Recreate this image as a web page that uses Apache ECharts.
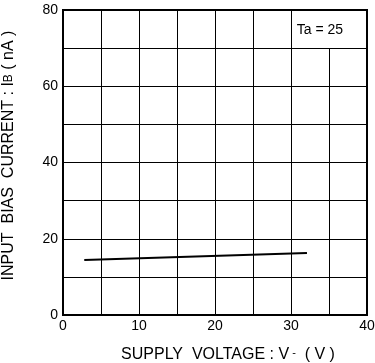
<!DOCTYPE html>
<html lang="en">
<head>
<meta charset="UTF-8">
<title>Input bias current vs supply voltage</title>
<style>
    * { margin: 0; padding: 0; }
    #chart { width: 375px; height: 363px; background: #fff; }
</style>
<script src="https://cdn.jsdelivr.net/npm/echarts@6/dist/echarts.min.js"></script>
</head>
<body>
<div id="chart"></div>
<script>
// 曲线数据 (V-, IB)
var voltage = [2.8, 32.1];
var biasCurrent = [14.4, 16.25];
// 网格线位置
var xGrid = [5, 10, 15, 20, 25, 30, 35];
var xGridTop = [80, 80, 80, 80, 80, 80, 70]; // 35V 的线在 Ta 框下方停止
var yGrid = [10, 20, 30, 40, 50, 60, 70];
var xLabels = [0, 10, 20, 30, 40];
var yLabels = [0, 20, 40, 60, 80];

var chart = echarts.init(document.getElementById('chart'));

var gridLines = [];
for (var i = 0; i < xGrid.length; i++) {
    gridLines.push([{ coord: [xGrid[i], 0] }, { coord: [xGrid[i], xGridTop[i]] }]);
}
for (var j = 0; j < yGrid.length; j++) {
    gridLines.push([{ coord: [0, yGrid[j]] }, { coord: [40, yGrid[j]] }]);
}

var font = 'Liberation Sans, Arial, sans-serif';

var option = {
    animation: false,
    grid: {
        left: 63, top: 10, width: 304, height: 305,
        outerBoundsMode: 'none',
        containLabel: false,
        show: true, borderColor: '#000', borderWidth: 2
    },
    xAxis: {
        type: 'value', min: 0, max: 40, interval: 5,
        axisLine: { show: false },
        axisTick: { show: false },
        splitLine: { show: false },
        axisLabel: {
            color: '#000', fontSize: 14, fontFamily: font, margin: 4,
            formatter: function (v) { return xLabels.indexOf(v) >= 0 ? String(v) : ''; }
        },
        name: '{t|SUPPLY  VOLTAGE : V}{s|-}{t|  ( V )}',
        nameLocation: 'middle',
        nameGap: 32,
        nameTextStyle: {
            padding: [0, 0, 0, 26],
            rich: {
                t: { fontSize: 16, fontFamily: font, color: '#000' },
                s: { fontSize: 11, fontFamily: font, color: '#000', verticalAlign: 'top', padding: [0, 0, 5, 3] }
            }
        }
    },
    yAxis: {
        type: 'value', min: 0, max: 80, interval: 10,
        axisLine: { show: false },
        axisTick: { show: false },
        splitLine: { show: false },
        axisLabel: {
            color: '#000', fontSize: 14, fontFamily: font, margin: 5,
            formatter: function (v) { return yLabels.indexOf(v) >= 0 ? String(v) : ''; }
        },
        name: '{t|INPUT  BIAS  CURRENT : I}{b|B}{t| ( nA )}',
        nameLocation: 'middle',
        nameGap: 46,
        nameRotate: 90,
        nameTextStyle: {
            padding: [0, 0, 0, 14],
            rich: {
                t: { fontSize: 16, fontFamily: font, color: '#000' },
                b: { fontSize: 12, fontFamily: font, color: '#000' }
            }
        }
    },
    series: [{
        type: 'line',
        data: voltage.map(function (v, k) { return [v, biasCurrent[k]]; }),
        symbol: 'none',
        lineStyle: { color: '#000', width: 2 },
        markLine: {
            silent: true,
            symbol: 'none',
            label: { show: false },
            lineStyle: { color: '#000', width: 1, type: 'solid' },
            data: gridLines
        },
        markPoint: {
            silent: true,
            symbol: 'rect',
            symbolSize: 0,
            label: {
                show: true, color: '#000', fontSize: 14, fontFamily: font,
                formatter: 'Ta = 25'
            },
            data: [{ coord: [33.8, 74.8] }]
        }
    }]
};
chart.setOption(option);
</script>
</body>
</html>
